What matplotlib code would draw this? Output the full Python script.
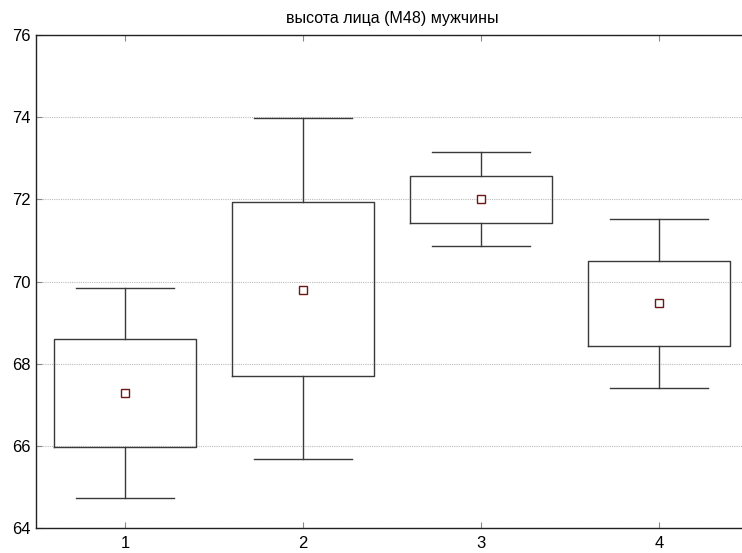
import matplotlib
matplotlib.use("Agg")
import matplotlib.pyplot as plt

categories = [1, 2, 3, 4]
means = [67.29, 69.79, 72.00, 69.47]
box_low = [65.98, 67.70, 71.42, 68.43]
box_high = [68.60, 71.94, 72.57, 70.50]
whisk_low = [64.72, 65.68, 70.86, 67.41]
whisk_high = [69.85, 73.97, 73.15, 71.51]
title = "высота лица (M48) мужчины"

plt.rcParams['font.family'] = ['Liberation Sans', 'DejaVu Sans']

fig = plt.figure(figsize=(7.42, 5.53), dpi=100)
ax = fig.add_axes([36/742, 1-528/553, (748-36)/742, (528-35)/553])

stats = []
for c, m, bl, bh, wl, wh in zip(categories, means, box_low, box_high, whisk_low, whisk_high):
    stats.append(dict(label=str(c), med=m, mean=m, q1=bl, q3=bh, whislo=wl, whishi=wh, fliers=[]))

ax.bxp(stats, positions=categories, widths=0.8, capwidths=0.55, showmeans=True,
       boxprops=dict(color='#3a3a3a', linewidth=1.0),
       whiskerprops=dict(color='#3a3a3a', linewidth=1.0),
       capprops=dict(color='#3a3a3a', linewidth=1.0),
       medianprops=dict(linewidth=0),
       meanprops=dict(marker='s', markerfacecolor='white', markeredgecolor='#6e1515',
                      markersize=6, markeredgewidth=1.0))

ax.set_xlim(0.5, 4.5)
ax.set_ylim(64, 76)
ax.set_yticks([64, 66, 68, 70, 72, 74, 76])
ax.set_xticks(categories)
ax.set_xticklabels([str(c) for c in categories])
ax.yaxis.grid(True, linestyle=(0, (1, 1)), color='#bbbbbb', linewidth=0.8)
ax.set_axisbelow(True)
ax.tick_params(axis='both', direction='in', length=4, labelsize=12, color='#888888')
ax.tick_params(axis='x', top=True, pad=6)
ax.tick_params(axis='y', pad=4)
ax.spines['right'].set_visible(False)
for s in ax.spines.values():
    s.set_color('#222222')
    s.set_linewidth(1.0)
ax.set_title(title, fontsize=11.5, pad=9)

fig.savefig("out.png", dpi=100)
